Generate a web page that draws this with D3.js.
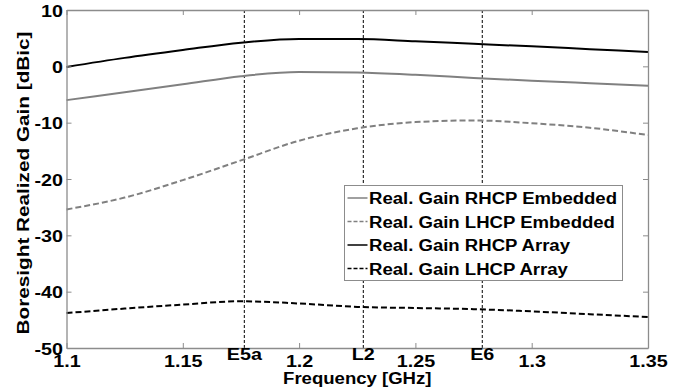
<!DOCTYPE html>
<html>
<head>
<meta charset="utf-8">
<script src="https://cdn.jsdelivr.net/npm/d3@7"></script>
<style>
  body { margin: 0; background: #fff; }
  text { font-family: "Liberation Sans", Arial, sans-serif; font-weight: bold; fill: #000; }
</style>
</head>
<body>
<div id="chart"></div>
<script>
var width = 688;
var height = 392;
var margin = {left: 66.5, right: 40, top: 10, bottom: 44};
var stretch = 1.16; // the reference glyphs are wider than Liberation Sans

// frequency samples [GHz]
var freqs = [1.1, 1.125, 1.15, 1.175, 1.2, 1.225, 1.25, 1.275, 1.3, 1.325, 1.35];
// boresight realized gain [dBic]
var rhcpEmbedded = [-6.0, -4.6, -3.2, -1.75, -1.0, -1.1, -1.5, -2.05, -2.55, -3.0, -3.45];
var lhcpEmbedded = [-25.4, -23.3, -20.2, -16.7, -13.2, -11.0, -9.9, -9.6, -10.1, -10.9, -12.2];
var rhcpArray = [-0.1, 1.5, 2.9, 4.2, 4.85, 4.85, 4.45, 4.0, 3.55, 3.05, 2.55];
var lhcpArray = [-43.8, -43.0, -42.3, -41.7, -42.1, -42.7, -42.9, -43.1, -43.5, -44.0, -44.5];

var xTicks = [1.1, 1.15, 1.2, 1.25, 1.3, 1.35];
var yTicks = [10, 0, -10, -20, -30, -40, -50];

// GNSS bands
var bandNames = ['E5a', 'L2', 'E6'];
var bandFreqs = [1.17645, 1.2276, 1.27875];

var seriesNames = ['Real. Gain RHCP Embedded', 'Real. Gain LHCP Embedded', 'Real. Gain RHCP Array', 'Real. Gain LHCP Array'];
var seriesData = [rhcpEmbedded, lhcpEmbedded, rhcpArray, lhcpArray];
var seriesColors = ['#808080', '#808080', '#000000', '#000000'];
var seriesDash = [null, '6,3', null, '6,3'];

var svg = d3.select("#chart").append("svg")
  .attr("width", width)
  .attr("height", height);

var x = d3.scaleLinear()
  .domain([1.1, 1.35])
  .range([margin.left, width - margin.right]);

var y = d3.scaleLinear()
  .domain([-50, 10])
  .range([height - margin.bottom, margin.top]);

var x0 = x.range()[0], x1 = x.range()[1];
var y0 = y.range()[0], y1 = y.range()[1];

// band marker lines
svg.selectAll(".band")
  .data(bandFreqs)
  .enter().append("line")
  .attr("x1", function(d) { return x(d); })
  .attr("x2", function(d) { return x(d); })
  .attr("y1", y1)
  .attr("y2", y0)
  .attr("stroke", "#000")
  .attr("stroke-width", 1)
  .attr("stroke-dasharray", "3,2");

// curves
var line = d3.line()
  .x(function(d, i) { return x(freqs[i]); })
  .y(function(d) { return y(d); })
  .curve(d3.curveMonotoneX);

seriesData.forEach(function(s, i) {
  svg.append("path")
    .attr("d", line(s))
    .attr("fill", "none")
    .attr("stroke", seriesColors[i])
    .attr("stroke-width", 2)
    .attr("stroke-dasharray", seriesDash[i]);
});

// axes box with inward ticks on all sides
var axisColor = "#8c8c8c";
var plain = function(d) { return String(d); };
var bottomAxis = svg.append("g")
  .attr("transform", "translate(0," + y0 + ")")
  .call(d3.axisBottom(x).tickValues(xTicks).tickSizeInner(-5).tickSizeOuter(0).tickFormat(plain));
var topAxis = svg.append("g")
  .attr("transform", "translate(0," + y1 + ")")
  .call(d3.axisTop(x).tickValues(xTicks).tickSizeInner(-5).tickSizeOuter(0).tickFormat(""));
var leftAxis = svg.append("g")
  .attr("transform", "translate(" + x0 + ",0)")
  .call(d3.axisLeft(y).tickValues(yTicks).tickSizeInner(-5).tickSizeOuter(0).tickFormat(plain));
var rightAxis = svg.append("g")
  .attr("transform", "translate(" + x1 + ",0)")
  .call(d3.axisRight(y).tickValues(yTicks).tickSizeInner(-5).tickSizeOuter(0).tickFormat(""));

[bottomAxis, topAxis, leftAxis, rightAxis].forEach(function(g) {
  g.select(".domain").attr("stroke", axisColor).attr("stroke-width", 1.3);
  g.selectAll(".tick line").attr("stroke", axisColor);
});

bottomAxis.selectAll(".tick text")
  .attr("y", 0)
  .attr("dy", "19px")
  .attr("transform", "scale(" + stretch + ",1)")
  .style("font-size", "17px")
  .style("font-family", "Liberation Sans, Arial, sans-serif")
  .style("font-weight", "bold")
  .attr("fill", "#000");

leftAxis.selectAll(".tick text")
  .attr("x", -3)
  .attr("dy", "0.36em")
  .attr("transform", "scale(" + stretch + ",1)")
  .style("font-size", "17px")
  .style("font-family", "Liberation Sans, Arial, sans-serif")
  .style("font-weight", "bold")
  .attr("fill", "#000");

// band labels
svg.selectAll(".bandLabel")
  .data(bandNames)
  .enter().append("text")
  .attr("transform", function(d, i) {
    return "translate(" + x(bandFreqs[i]) + "," + (y0 + 12) + ") scale(" + stretch + ",1)";
  })
  .attr("text-anchor", "middle")
  .style("font-size", "17px")
  .text(function(d) { return d; });

// axis titles
svg.append("text")
  .attr("transform", "translate(" + ((x0 + x1) / 2) + ",384) scale(" + stretch + ",1)")
  .attr("text-anchor", "middle")
  .style("font-size", "16px")
  .text("Frequency [GHz]");

svg.append("text")
  .attr("transform", "translate(29,183) rotate(-90) scale(1.22,1)")
  .attr("text-anchor", "middle")
  .style("font-size", "17px")
  .text("Boresight Realized Gain [dBic]");

// legend
var legend = svg.append("g").attr("transform", "translate(344.5,185.5)");
legend.append("rect")
  .attr("width", 278)
  .attr("height", 95)
  .attr("fill", "#fff")
  .attr("stroke", axisColor)
  .attr("stroke-width", 1);

seriesNames.forEach(function(name, i) {
  var ly = 12.5 + i * 23.5;
  legend.append("line")
    .attr("x1", 3).attr("x2", 23)
    .attr("y1", ly).attr("y2", ly)
    .attr("stroke", seriesColors[i])
    .attr("stroke-width", 1.5)
    .attr("stroke-dasharray", seriesDash[i] ? "4,2" : null);
  legend.append("text")
    .attr("transform", "translate(24.5," + (ly + 6) + ") scale(" + stretch + ",1)")
    .style("font-size", "16px")
    .text(name);
});
</script>
</body>
</html>
